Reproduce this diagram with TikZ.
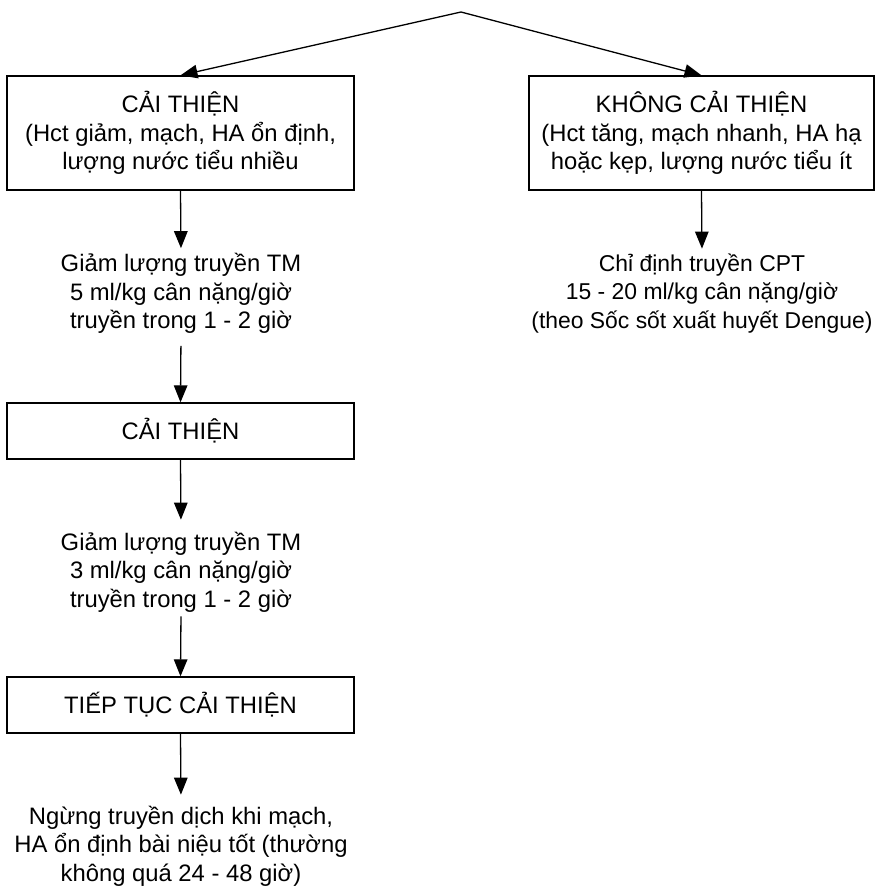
\documentclass[tikz,border=0pt]{standalone}
\usepackage{fontspec}
\setmainfont{Liberation Sans}
\usetikzlibrary{arrows.meta,positioning}

\tikzstyle{box}   = [rectangle, draw=black, line width=1.3pt, minimum width=347pt, align=center, inner sep=0pt]
\tikzstyle{note}  = [align=center, inner sep=0pt]
\tikzstyle{arrow} = [line width=1.3pt, -{Triangle[length=17pt,width=13.5pt]}]

\begin{document}
\begin{tikzpicture}[x=1pt, y=1pt, font=\fontsize{23.8}{28.5}\selectfont]
    \useasboundingbox (0,0) rectangle (875,-886);
    \coordinate (split) at (461,-12);

    % two outcomes
    \node[box, minimum height=114pt] (better) at (180.5,-133)
        {CẢI THIỆN\\(Hct giảm, mạch, HA ổn định,\\lượng nước tiểu nhiều};
    \node[box, minimum height=114pt, minimum width=345pt] (worse) at (701.5,-133)
        {KHÔNG CẢI THIỆN\\(Hct tăng, mạch nhanh, HA hạ\\hoặc kẹp, lượng nước tiểu ít};

    % left branch
    \node[note] (lower5) at (181,-293.5)
        {Giảm lượng truyền TM\\5 ml/kg cân nặng/giờ\\truyền trong 1 - 2 giờ};
    \node[box, minimum height=56pt] (steady) at (180.5,-431) {CẢI THIỆN};
    \node[note] (lower3) at (181,-572)
        {Giảm lượng truyền TM\\3 ml/kg cân nặng/giờ\\truyền trong 1 - 2 giờ};
    \node[box, minimum height=56pt] (still) at (180.5,-705) {TIẾP TỤC CẢI THIỆN};
    \node[note] (stop) at (181,-846)
        {Ngừng truyền dịch khi mạch,\\HA ổn định bài niệu tốt (thường\\không quá 24 - 48 giờ)};

    % right branch, set a little smaller to fit
    \node[note, font=\fontsize{22.9}{28.5}\selectfont] (cpt) at (702,-293.5)
        {Chỉ định truyền CPT\\15 - 20 ml/kg cân nặng/giờ\\(theo Sốc sốt xuất huyết Dengue)};

    \draw[arrow] (split) -- (better.north);
    \draw[arrow] (split) -- (worse.north);
    \draw[arrow, shorten >=5pt] (better.south) -- (lower5.north);
    \draw[arrow, shorten <=12pt] (lower5.south) -- (steady.north);
    \draw[arrow, shorten >=12pt] (steady.south) -- (lower3.north);
    \draw[arrow, shorten <=4pt] (lower3.south) -- (still.north);
    \draw[arrow, shorten >=11pt] (still.south) -- (stop.north);
    \draw[arrow, shorten >=5pt] (worse.south) -- (cpt.north);
\end{tikzpicture}
\end{document}
